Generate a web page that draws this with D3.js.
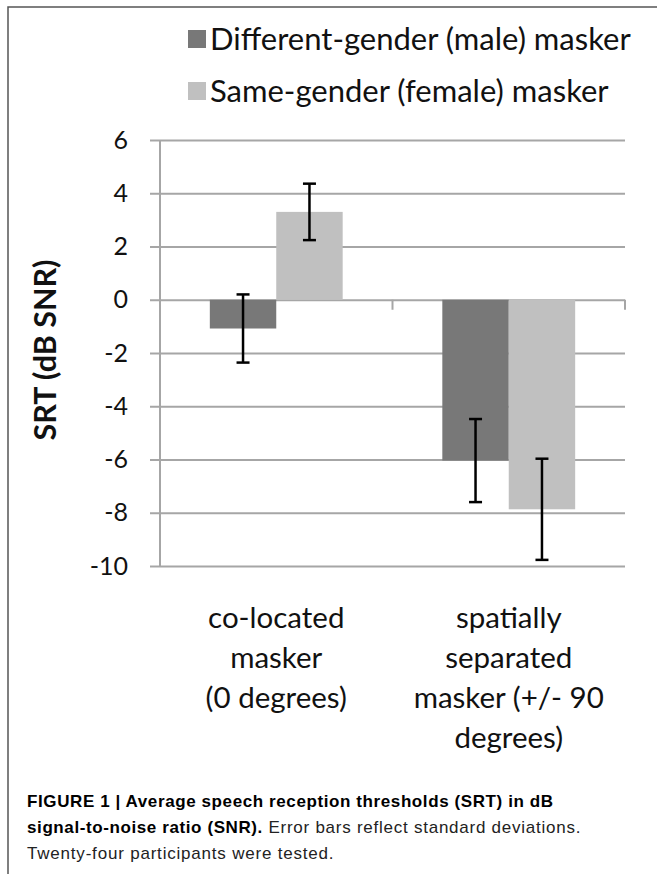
<!DOCTYPE html>
<html>
<head>
<meta charset="utf-8">
<script src="https://cdn.jsdelivr.net/npm/d3@7"></script>
<style>
  body { margin: 0; background: #fff; }
  svg { display: block; }
</style>
</head>
<body>
<div id="chart"></div>
<script>
// data
const categories = ["co-located masker (0 degrees)", "spatially separated masker (+/- 90 degrees)"];
const categoryLines = [
    ["co-located", "masker", "(0 degrees)"],
    ["spatially", "separated", "masker (+/- 90", "degrees)"]
];
const seriesNames = ["Different-gender (male) masker", "Same-gender (female) masker"];
const seriesColors = ["#787878", "#c0c0c0"];
const maleMeans = [-1.08, -6.04];
const maleSD = [1.28, 1.56];
const femaleMeans = [3.30, -7.87];
const femaleSD = [1.06, 1.90];
const yTicks = [6, 4, 2, 0, -2, -4, -6, -8, -10];

const W = 657, H = 874;
const plot = { left: 160, right: 625, top: 140, bottom: 566 };
const font = "Lato, 'Open Sans', sans-serif";

const rows = categories.map((c, i) => ({
    cat: c,
    values: [
        { s: 0, mean: maleMeans[i], sd: maleSD[i] },
        { s: 1, mean: femaleMeans[i], sd: femaleSD[i] }
    ]
}));

const svg = d3.select("#chart").append("svg")
    .attr("width", W)
    .attr("height", H);

// outer frame (only top and left edges show)
svg.append("path")
    .attr("d", `M8,${H} L8,7 L${W},7`)
    .attr("fill", "none")
    .attr("stroke", "#555")
    .attr("stroke-width", 1.5);

const y = d3.scaleLinear().domain([-10, 6]).range([plot.bottom, plot.top]);
const x0 = d3.scaleBand().domain(categories).range([plot.left, plot.right]).padding(0);
const x1 = d3.scaleBand().domain([0, 1]).range([0, x0.bandwidth()])
    .paddingInner(0).paddingOuter(0.75);

// gridlines + y axis
const yAxis = svg.append("g")
    .attr("transform", `translate(${plot.left},0)`)
    .call(d3.axisLeft(y).tickValues(yTicks).tickSize(10).tickPadding(22)
        .tickFormat(d3.format("d")));
yAxis.select(".domain").attr("stroke", "#a6a6a6").attr("stroke-width", 2)
    .attr("d", `M0,${plot.top}V${plot.bottom}`);
yAxis.selectAll(".tick line").attr("stroke", "#a6a6a6").attr("stroke-width", 2);
yAxis.selectAll(".tick text")
    .attr("font-family", font)
    .attr("font-size", 25)
    .attr("fill", "#111")
    .text(d => d < 0 ? "-" + Math.abs(d) : d);
yAxis.selectAll(".tick").append("line")
    .attr("x1", 0).attr("x2", plot.right - plot.left)
    .attr("stroke", "#a6a6a6").attr("stroke-width", 2);

// category separators on the zero line
svg.append("g").selectAll("line")
    .data([x0(categories[1]), plot.right])
    .join("line")
    .attr("x1", d => d).attr("x2", d => d)
    .attr("y1", y(0)).attr("y2", y(0) + 10)
    .attr("stroke", "#a6a6a6").attr("stroke-width", 2);

// bars
const groups = svg.append("g").selectAll("g")
    .data(rows)
    .join("g")
    .attr("transform", d => `translate(${x0(d.cat)},0)`);

groups.selectAll("rect")
    .data(d => d.values)
    .join("rect")
    .attr("x", d => x1(d.s))
    .attr("width", x1.bandwidth())
    .attr("y", d => y(Math.max(0, d.mean)))
    .attr("height", d => Math.abs(y(d.mean) - y(0)))
    .attr("fill", d => seriesColors[d.s]);

// error bars
const eb = groups.selectAll("g.err")
    .data(d => d.values)
    .join("g")
    .attr("class", "err")
    .attr("transform", d => `translate(${x1(d.s) + x1.bandwidth() / 2},0)`)
    .attr("stroke", "#000")
    .attr("stroke-width", 2.5);
eb.append("line")
    .attr("y1", d => y(d.mean + d.sd)).attr("y2", d => y(d.mean - d.sd));
eb.append("line")
    .attr("x1", -6.5).attr("x2", 6.5)
    .attr("y1", d => y(d.mean + d.sd)).attr("y2", d => y(d.mean + d.sd));
eb.append("line")
    .attr("x1", -6.5).attr("x2", 6.5)
    .attr("y1", d => y(d.mean - d.sd)).attr("y2", d => y(d.mean - d.sd));

// category labels
svg.append("g").selectAll("text")
    .data(categories)
    .join("text")
    .attr("x", d => x0(d) + x0.bandwidth() / 2)
    .attr("text-anchor", "middle")
    .attr("font-family", font)
    .attr("font-size", 29.5)
    .attr("fill", "#111")
    .each(function (d, i) {
        d3.select(this).selectAll("tspan")
            .data(categoryLines[i])
            .join("tspan")
            .attr("x", x0(d) + x0.bandwidth() / 2)
            .attr("y", (t, j) => 628 + j * 40)
            .text(t => t);
    });

// y axis title
svg.append("text")
    .attr("transform", "translate(56,350) rotate(-90)")
    .attr("text-anchor", "middle")
    .attr("font-family", font)
    .attr("font-weight", "bold")
    .attr("font-size", 30.5)
    .attr("fill", "#111")
    .text("SRT (dB SNR)");

// legend
const legend = svg.append("g").selectAll("g")
    .data(seriesNames)
    .join("g")
    .attr("transform", (d, i) => `translate(188,${30 + i * 52})`);
legend.append("rect")
    .attr("width", 18).attr("height", 18)
    .attr("fill", (d, i) => seriesColors[i]);
legend.append("text")
    .attr("x", 22).attr("y", 20)
    .attr("font-family", font)
    .attr("font-size", 31)
    .attr("fill", "#111")
    .text(d => d);

// caption
const cap = svg.append("g")
    .attr("font-family", "'Liberation Sans', Arial, sans-serif")
    .attr("font-size", 17)
    .attr("fill", "#222");
cap.append("text").attr("x", 27).attr("y", 807)
    .attr("font-weight", "bold").attr("fill", "#000")
    .attr("letter-spacing", 0.6)
    .text("FIGURE 1 | Average speech reception thresholds (SRT) in dB");
const l2 = cap.append("text").attr("x", 27).attr("y", 833);
l2.append("tspan").attr("font-weight", "bold").attr("fill", "#000")
    .attr("letter-spacing", 0.6)
    .text("signal-to-noise ratio (SNR).");
l2.append("tspan").attr("letter-spacing", 0.75)
    .text(" Error bars reflect standard deviations.");
cap.append("text").attr("x", 27).attr("y", 859)
    .attr("letter-spacing", 0.8)
    .text("Twenty-four participants were tested.");
</script>
</body>
</html>
